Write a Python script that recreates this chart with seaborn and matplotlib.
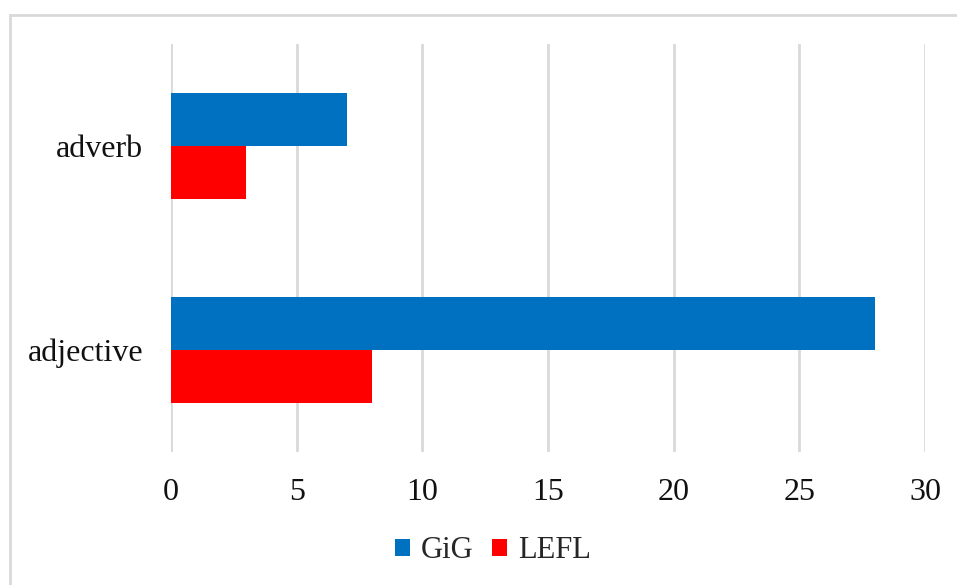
import matplotlib
matplotlib.use("Agg")
import matplotlib.pyplot as plt
from matplotlib.patches import Rectangle
import seaborn as sns
import pandas as pd

categories = ["adverb", "adjective"]
series = ["GiG", "LEFL"]
gig_values = [7, 28]
lefl_values = [3, 8]
x_ticks = [0, 5, 10, 15, 20, 25, 30]
colors = {"GiG": "#0070C0", "LEFL": "#FF0000"}

df = pd.DataFrame({
    "category": categories * 2,
    "series": [series[0]] * len(categories) + [series[1]] * len(categories),
    "value": gig_values + lefl_values,
})

sns.set_theme(style="white")
plt.rcParams["font.family"] = ["Liberation Serif", "DejaVu Serif"]

W, H = 957, 585
fig = plt.figure(figsize=(W / 100, H / 100), dpi=100)
ax = fig.add_axes([171 / W, 1 - 452 / H, (925 - 171) / W, (452 - 44) / H])

sns.barplot(data=df, y="category", x="value", hue="series", order=categories,
            hue_order=series, palette=colors, orient="h", width=0.515,
            saturation=1, linewidth=0, ax=ax, legend=True)

ax.set_xlim(0, 30)
ax.set_ylim(1.5, -0.5)
ax.set_xticks(x_ticks)
ax.set_xticklabels([str(t) for t in x_ticks])
ax.xaxis.grid(True, color="#d9d9d9", linewidth=2)
ax.yaxis.grid(False)
ax.set_axisbelow(True)
for s in ax.spines.values():
    s.set_visible(False)
ax.set_xlabel("")
ax.set_ylabel("")
ax.tick_params(axis="x", length=0, pad=19, labelsize=23, colors="#111111")
ax.tick_params(axis="y", length=0, pad=20, labelsize=23, colors="#111111")

handles, labels = ax.get_legend_handles_labels()
ax.legend_.remove()
fig.legend(handles, labels, loc="center", bbox_to_anchor=(493 / W, 1 - 551 / H),
           ncol=2, frameon=False, fontsize=22, handlelength=0.5, handleheight=0.5,
           handletextpad=0.35, columnspacing=0.6)

fig.patches.append(Rectangle((10 / W, -0.1), 1.2, 1 - 15 / H + 0.1,
                             transform=fig.transFigure, fill=False,
                             edgecolor="#d9d9d9", linewidth=2))

fig.savefig("out.png", dpi=100)
